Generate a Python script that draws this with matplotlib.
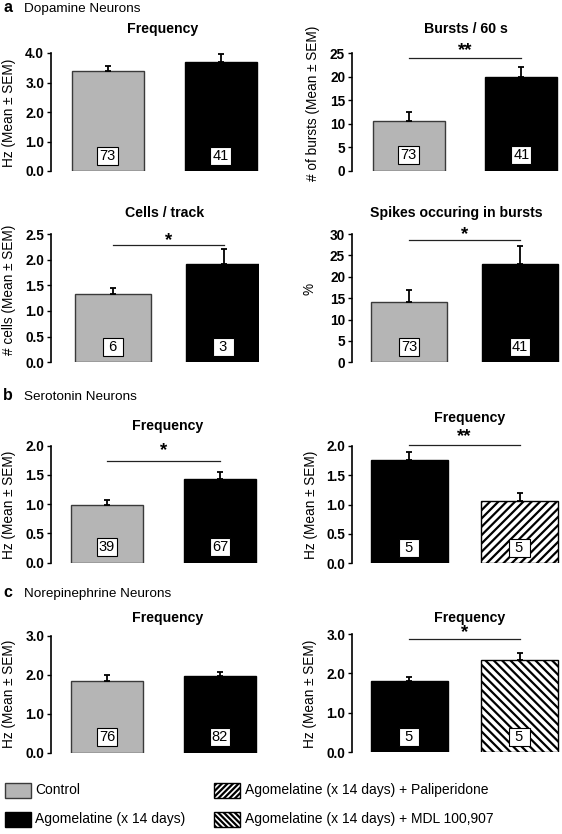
import numpy as np
import matplotlib
matplotlib.use('Agg')
import matplotlib.pyplot as plt
from matplotlib.patches import Rectangle

plt.rcParams['font.family'] = ['Liberation Sans', 'DejaVu Sans']
plt.rcParams['hatch.linewidth'] = 1.6

# ---------------- data ----------------
groups = ['Control', 'Agomelatine (x 14 days)',
          'Agomelatine (x 14 days) + Paliperidone',
          'Agomelatine (x 14 days) + MDL 100,907']

da_freq_mean = [3.38, 3.68]
da_freq_sem = [0.18, 0.27]
da_freq_n = [73, 41]

da_bursts_mean = [10.5, 19.9]
da_bursts_sem = [2.0, 2.1]
da_bursts_n = [73, 41]

da_cells_mean = [1.34, 1.91]
da_cells_sem = [0.11, 0.29]
da_cells_n = [6, 3]

da_spikes_mean = [14.2, 23.0]
da_spikes_sem = [2.7, 4.2]
da_spikes_n = [73, 41]

ht_freq_mean = [0.98, 1.43]
ht_freq_sem = [0.10, 0.12]
ht_freq_n = [39, 67]

ht_pali_mean = [1.75, 1.06]
ht_pali_sem = [0.14, 0.13]
ht_pali_n = [5, 5]

ne_freq_mean = [1.85, 1.97]
ne_freq_sem = [0.13, 0.11]
ne_freq_n = [76, 82]

ne_mdl_mean = [1.80, 2.34]
ne_mdl_sem = [0.10, 0.19]
ne_mdl_n = [5, 5]

# ---------------- styles ----------------
STYLE = {
    0: dict(color='#b5b5b5', edgecolor='#3a3a3a', hatch=None, lhatch=None),
    1: dict(color='black', edgecolor='black', hatch=None, lhatch=None),
    2: dict(color='white', edgecolor='black', hatch='////', lhatch='//////'),
    3: dict(color='white', edgecolor='black', hatch='\\\\\\\\',
            lhatch='\\\\\\\\\\\\'),
}

W, H = 562, 834
fig = plt.figure(figsize=(W / 100, H / 100), dpi=100)


def fx(x):
    return x / W


def fy(y):
    return 1 - y / H


def panel(spine_x, top_y, bot_y, c0, c1, bw, ymax, step, fmt,
          means, sems, ns, groups_idx, ylabel, ylab_xy, title, title_xy,
          sig=None):
    width_px = min(208, W - spine_x - 1)
    ax = fig.add_axes([fx(spine_x), fy(bot_y), width_px / W, (bot_y - top_y) / H])
    s = c1 - c0
    ax.set_xlim((spine_x - c0) / s, (spine_x + width_px - c0) / s)
    ax.set_ylim(0, ymax)
    x = np.arange(len(means))
    for i in range(len(means)):
        st = STYLE[groups_idx[i]]
        ax.bar(x[i], means[i], width=bw / s, color=st['color'],
               edgecolor=st['edgecolor'], hatch=st['hatch'], linewidth=1.0,
               zorder=2)
    ax.errorbar(x, means, yerr=[np.zeros(len(means)), sems], fmt='none',
                ecolor='black', elinewidth=1.3, capsize=2.3, capthick=1.3,
                zorder=3)
    for i, n in enumerate(ns):
        lab = str(n) if n >= 10 else ' ' + str(n) + ' '
        ax.annotate(lab, xy=(x[i], 0), xytext=(0, 11),
                    textcoords='offset points', ha='center', va='center',
                    fontsize=10.5, zorder=4,
                    bbox=dict(boxstyle='square,pad=0.14', fc='white',
                              ec='black', lw=0.8))
    for sp in ['top', 'right', 'bottom']:
        ax.spines[sp].set_visible(False)
    ax.spines['left'].set_linewidth(1.2)
    ticks = np.arange(0, ymax + 1e-9, step)
    ax.set_yticks(ticks)
    ax.set_yticklabels([fmt.format(t) for t in ticks], fontweight='bold',
                       fontsize=9.8)
    ax.tick_params(axis='y', direction='out', length=3, width=1, pad=2)
    ax.set_xticks([])
    ax.patch.set_alpha(0)
    fig.text(fx(ylab_xy[0]), fy(ylab_xy[1]), ylabel, rotation=90,
             ha='center', va='center', fontsize=9.8)
    fig.text(fx(title_xy[0]), fy(title_xy[1]), title, ha='center',
             va='baseline', fontsize=10.2, fontweight='bold')
    if sig is not None:
        line_y, star_y, stars = sig
        ax.plot([0, 1], [line_y, line_y], color='#222222', lw=0.9,
                clip_on=False, zorder=3)
        ax.text(0.5, star_y, stars, ha='center', va='center', fontsize=13.5,
                fontweight='bold', clip_on=False)
    return ax


# a: dopamine
panel(51, 53, 171, 107.5, 220.5, 72, 4.0, 1.0, '{:.1f}',
      da_freq_mean, da_freq_sem, da_freq_n, [0, 1],
      'Hz (Mean ± SEM)', (9.5, 113), 'Frequency', (163, 33.5))
panel(352, 53.3, 170.7, 408.5, 521.3, 72, 25, 5, '{:.0f}',
      da_bursts_mean, da_bursts_sem, da_bursts_n, [0, 1],
      '# of bursts (Mean ± SEM)', (313, 103), 'Bursts / 60 s', (466, 33.3),
      sig=(24.1, 25.6, '**'))
panel(51, 234, 362.3, 113, 223.5, 76, 2.5, 0.5, '{:.1f}',
      da_cells_mean, da_cells_sem, da_cells_n, [0, 1],
      '# cells (Mean ± SEM)', (9.5, 290), 'Cells / track', (165, 216.7),
      sig=(2.29, 2.38, '*'))
panel(352, 234, 362.3, 409, 520, 76, 30, 5, '{:.0f}',
      da_spikes_mean, da_spikes_sem, da_spikes_n, [0, 1],
      '%', (309, 289), 'Spikes occuring in bursts', (456, 216.7),
      sig=(28.6, 29.9, '*'))

# b: serotonin
panel(51, 445.7, 562.7, 107, 220, 72, 2.0, 0.5, '{:.1f}',
      ht_freq_mean, ht_freq_sem, ht_freq_n, [0, 1],
      'Hz (Mean ± SEM)', (9.5, 505), 'Frequency', (168, 430),
      sig=(1.74, 1.91, '*'))
panel(352, 445.7, 563.3, 409, 519.5, 77, 2.0, 0.5, '{:.1f}',
      ht_pali_mean, ht_pali_sem, ht_pali_n, [1, 2],
      'Hz (Mean ± SEM)', (311, 505), 'Frequency', (470, 421.7),
      sig=(2.02, 2.16, '**'))

# c: norepinephrine
panel(51, 635.7, 752.7, 107, 220, 72, 3.0, 1.0, '{:.1f}',
      ne_freq_mean, ne_freq_sem, ne_freq_n, [0, 1],
      'Hz (Mean ± SEM)', (9.5, 694), 'Frequency', (168, 621.7))
panel(352, 634, 752.3, 409, 519.5, 77, 3.0, 1.0, '{:.1f}',
      ne_mdl_mean, ne_mdl_sem, ne_mdl_n, [1, 3],
      'Hz (Mean ± SEM)', (310, 694), 'Frequency', (470, 621.7),
      sig=(2.87, 3.03, '*'))

# section headers
for letter, name, base in [('a', 'Dopamine Neurons', 11.7),
                           ('b', 'Serotonin Neurons', 400),
                           ('c', 'Norepinephrine Neurons', 597)]:
    fig.text(fx(3), fy(base), letter, ha='left', va='baseline',
             fontsize=11.5, fontweight='bold')
    fig.text(fx(24), fy(base), name, ha='left', va='baseline', fontsize=9.7)

# legend
leg_pos = [(5, 782.5, 35), (5, 811.5, 35), (214, 782.5, 245), (214, 811.5, 245)]
for gi, (sx, sy, tx) in enumerate(leg_pos):
    st = STYLE[gi]
    r = Rectangle((fx(sx), fy(sy + 15)), 26 / W, 15 / H,
                  transform=fig.transFigure, facecolor=st['color'],
                  edgecolor=st['edgecolor'], hatch=st['lhatch'], lw=1.0)
    fig.add_artist(r)
    fig.text(fx(tx), fy(sy + 7.5), groups[gi], ha='left', va='center',
             fontsize=10)

fig.savefig('out.png', dpi=100)
